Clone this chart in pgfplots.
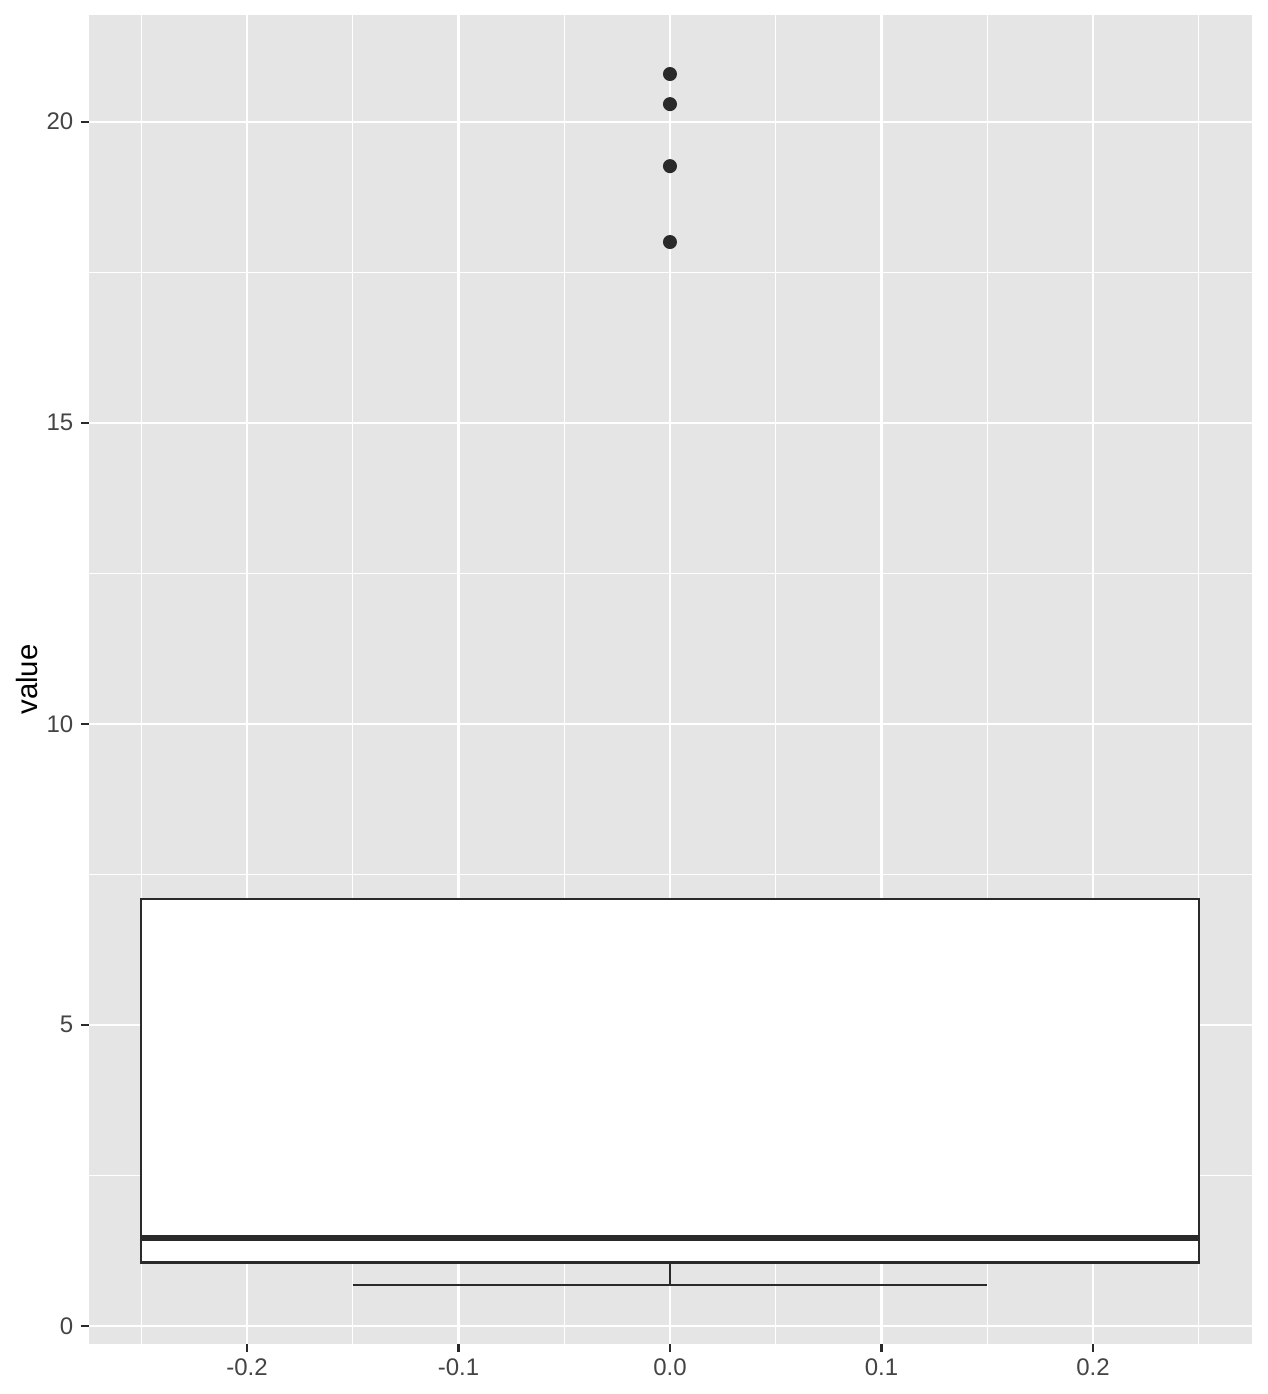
\documentclass[border=0pt]{standalone}
\usepackage{fontspec}
\setmainfont{Liberation Sans}
\usepackage{pgfplots}
\pgfplotsset{compat=1.18}
\definecolor{panelbg}{HTML}{E5E5E5}
\definecolor{gray20}{HTML}{2A2A2A}
\definecolor{gray30}{HTML}{444444}

\begin{document}
\begin{tikzpicture}
\begin{axis}[
  scale only axis,
  width=348.9pt, height=398.7pt,
  xmin=-0.2747, xmax=0.2752,
  ymin=-0.30, ymax=21.77,
  axis background/.style={fill=panelbg},
  axis line style={draw=none},
  xtick={-0.2,-0.1,0,0.1,0.2},
  xticklabels={-0.2,-0.1,0.0,0.1,0.2},
  minor xtick={-0.25,-0.15,-0.05,0.05,0.15,0.25},
  ytick={0,5,10,15,20},
  yticklabels={0,5,10,15,20},
  minor ytick={2.5,7.5,12.5,17.5},
  grid=both,
  major grid style={white,line width=0.65pt},
  minor grid style={white,line width=0.33pt},
  tick align=outside,
  major tick length=2.4pt,
  minor tick length=0pt,
  tick style={gray20,line width=0.65pt},
  xtick pos=left, ytick pos=left,
  ticklabel style={font=\fontsize{7.2}{8}\selectfont, text=gray30},
  yticklabel style={xshift=1.2pt},
  xticklabel style={yshift=1.4pt},
  ylabel={value},
  ylabel style={font=\fontsize{8.8}{10}\selectfont, at={(axis description cs:-0.0533,0.5)}, anchor=center},
]
% lower whisker and cap
\addplot[gray20, line width=0.7pt] coordinates {(0,1.053) (0,0.681)};
\addplot[gray20, line width=0.7pt] coordinates {(-0.15,0.681) (0.15,0.681)};
% box (Q1 to Q3)
\addplot[draw=gray20, fill=white, line width=0.7pt] coordinates {(-0.25,1.053) (0.25,1.053) (0.25,7.09) (-0.25,7.09)} -- cycle;
% median
\addplot[gray20, line width=1.7pt] coordinates {(-0.25,1.457) (0.25,1.457)};
% outliers
\addplot[only marks, mark=*, mark size=1.9pt, gray20] coordinates {(0,20.79) (0,20.29) (0,19.26) (0,18.0)};
\end{axis}
\path ([shift={(-26.7pt,-15pt)}]current axis.south west) rectangle ([shift={(4.8pt,4.5pt)}]current axis.north east);
\end{tikzpicture}
\end{document}
